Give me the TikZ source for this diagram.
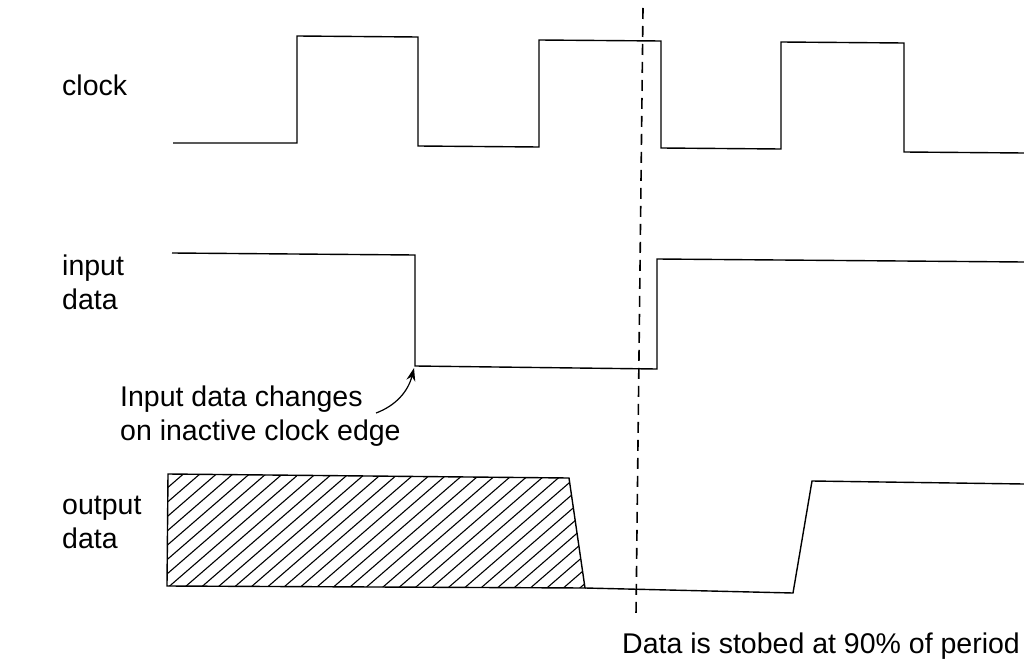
\documentclass[tikz,border=0pt]{standalone}
\usepackage{fontspec}
\setmainfont{Liberation Sans}
\usetikzlibrary{arrows.meta}
\begin{document}
\begin{tikzpicture}[x=1pt,y=-1pt]
\tikzstyle{sigtext} = [anchor=base west, inner sep=0pt, align=left, font=\fontsize{28.5}{34}\selectfont]
\tikzstyle{signal} = [draw=black, line width=1.4pt]
\tikzstyle{hatch} = [draw=black, line width=1.1pt]
\tikzstyle{strobe} = [draw=black, line width=1.6pt, dash pattern=on 11pt off 7pt]
\tikzstyle{note} = [draw=black, line width=1.2pt, -{Stealth[length=13pt,width=9pt]}]

\useasboundingbox (0,0) rectangle (1024,663);

\node[sigtext] (clk) at (62,96) {clock};
\node[sigtext] (in) at (62,309) {input\\data};
\node[sigtext] (out) at (62,548) {output\\data};
\node[sigtext] (chg) at (120,440) {Input data changes\\on inactive clock edge};
\node[sigtext] (strb) at (622,653) {Data is stobed at 90\% of period};

% clock
\draw[signal] (173,143) -- (297,143) -- (297,36) -- (418,37) -- (418,146) -- (539,147)
  -- (539,40) -- (661,41) -- (661,148) -- (781,149) -- (781,42) -- (904,43)
  -- (904,152) -- (1024,153);

% input data
\draw[signal] (172,253) -- (415,255) -- (415,366) -- (657,369) -- (657,259) -- (1024,262);

% output data
\begin{scope}
\clip (168,474) -- (569,478) -- (585,588) -- (167,586) -- cycle;
\foreach \h in {-160,-143.5,...,600}
  \draw[hatch] (\h,600) -- ++(150,-130);
\end{scope}
\draw[signal] (168,474) -- (569,478) -- (585,588) -- (167,586) -- cycle;
\draw[signal] (585,588) -- (793,593) -- (812,481) -- (1024,484);

% strobe
\draw[strobe] (643,8) -- (636,615);

\coordinate (chgend) at (376,413);
\coordinate (inedge) at (414,368);
\draw[note] (chgend) .. controls (395,406) and (408,392) .. (inedge);
\end{tikzpicture}
\end{document}
